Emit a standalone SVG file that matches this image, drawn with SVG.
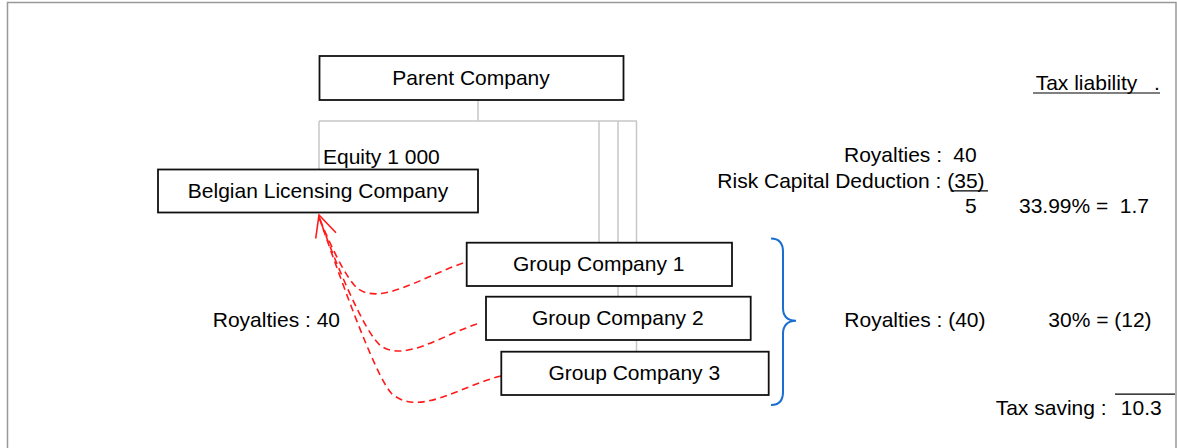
<svg xmlns="http://www.w3.org/2000/svg" width="1177" height="448" viewBox="0 0 1177 448">
  <style>
    text { font-family: "Liberation Sans", Arial, sans-serif; font-size: 21px; fill: #000; }
    .box { fill: #fff; stroke: #111; stroke-width: 1.8; }
    .tree { fill: none; stroke: #c8c8c8; stroke-width: 1.5; }
    .flow { fill: none; stroke: #ff1a1a; stroke-width: 1.6; stroke-dasharray: 7 4.5; }
    .rule { stroke: #000; stroke-width: 1.2; }
  </style>

  <rect x="0" y="0" width="1177" height="448" fill="#fff"/>
  <!-- page frame -->
  <path d="M7.5,460 L7.5,2.5 L1176,2.5 L1176,460" fill="none" stroke="#999" stroke-width="1.5"/>

  <!-- ownership lines and royalty flows -->
  <g id="connectors">
    <path class="tree" d="M478,100 L478,121 M319,121 L637,121 M319,121 L319,169 M599,121 L599,242 M618,121 L618,296 M636.5,121 L636.5,351"/>
    <path class="flow" d="M463,263 C420,278 380,306 357,288 C345,277 328,240 319,217"/>
    <path class="flow" d="M477,324 C440,336 405,362 381,346 C365,334 335,262 319,217"/>
    <path class="flow" d="M501,376 C460,386 420,417 392,394 C375,377 336,266 319,217"/>
    <polyline points="315.7,238.5 319,215 336,232.7" fill="none" stroke="#ff1a1a" stroke-width="1.6"/>
  </g>

  <g id="parent">
    <rect class="box" x="319.5" y="56" width="304" height="44"/>
    <text x="471" y="84.5" text-anchor="middle">Parent Company</text>
  </g>

  <g id="belgian">
    <rect class="box" x="158" y="169.5" width="320" height="43"/>
    <text x="318" y="197.7" text-anchor="middle">Belgian Licensing Company</text>
  </g>

  <text x="323" y="164">Equity 1 000</text>

  <g id="group1">
    <rect class="box" x="466.7" y="242.7" width="265.3" height="43.3"/>
    <text x="598.7" y="270.7" text-anchor="middle">Group Company 1</text>
  </g>
  <g id="group2">
    <rect class="box" x="486" y="296.7" width="264.7" height="43.3"/>
    <text x="617.8" y="325" text-anchor="middle">Group Company 2</text>
  </g>
  <g id="group3">
    <rect class="box" x="501.3" y="351.7" width="267.4" height="43.3"/>
    <text x="634.3" y="380" text-anchor="middle">Group Company 3</text>
  </g>

  <text x="340" y="326.7" text-anchor="end">Royalties : 40</text>

  <!-- brace grouping the group companies -->
  <path d="M771,238.5 Q783,238.5 783,252 L783,308 Q783,320.5 796,320.7 Q783,321 783,334 L783,392 Q783,405 771,405" fill="none" stroke="#1a6ed0" stroke-width="2"/>

  <!-- tax computation -->
  <g id="tax">
    <text x="1035.7" y="90">Tax liability<tspan x="1154">.</tspan></text>
    <line class="rule" x1="1033" y1="93" x2="1160" y2="93"/>

    <text x="844" y="161.7">Royalties :<tspan x="976.7" text-anchor="end">40</tspan></text>
    <text x="717.3" y="188">Risk Capital Deduction : (35)</text>
    <line class="rule" x1="950.5" y1="190.8" x2="988" y2="190.8"/>
    <text x="976.7" y="213.3" text-anchor="end">5</text>
    <text x="1019" y="213.3">33.99% =<tspan x="1149" text-anchor="end">1.7</tspan></text>

    <text x="844.3" y="326.7">Royalties : (40)</text>
    <text x="1048.3" y="326.7">30% = (12)</text>

    <line class="rule" x1="1115" y1="394.2" x2="1175" y2="394.2"/>
    <text x="995.7" y="415">Tax saving :<tspan x="1161.7" text-anchor="end">10.3</tspan></text>
  </g>
</svg>
